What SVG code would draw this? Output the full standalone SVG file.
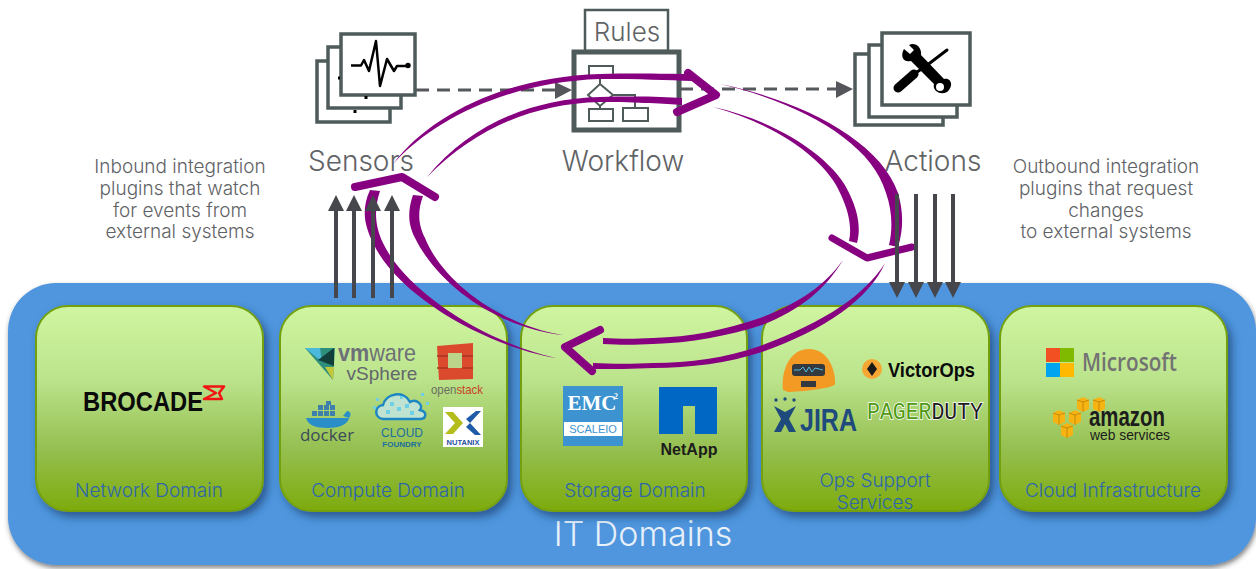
<svg xmlns="http://www.w3.org/2000/svg" width="1256" height="569" viewBox="0 0 1256 569">
<style>
.t{font-family:"Inter","Noto Sans",sans-serif;font-weight:300;fill:#5f6366;text-anchor:middle}
.d{font-family:"Inter","Noto Sans",sans-serif;font-weight:300;font-size:19px;fill:#2d66ad;text-anchor:middle}
.b{font-family:"Liberation Sans",sans-serif;font-weight:700}
.s{fill:#fff;stroke:#4f5b5b;stroke-width:3.5}
.g{fill:#fff;stroke:#4f5b5b;stroke-width:2}
.dom{fill:url(#gr);stroke:#74a010;stroke-width:2;filter:url(#sh)}
.pu{fill:#86007f}
.ch{fill:none;stroke:#86007f;stroke-linejoin:round;stroke-linecap:round;stroke-width:8}
.ar{stroke:#45474c;stroke-width:4;fill:none}
.dash{stroke:#55585c;stroke-width:3;stroke-dasharray:13 8;fill:none}
.head{fill:#55565c}
.ah{fill:#45474c}
</style>
<defs>
<linearGradient id="gr" x1="0" y1="0" x2="0" y2="1"><stop offset="0" stop-color="#d0f5a0"/><stop offset=".35" stop-color="#bce48d"/><stop offset=".7" stop-color="#95bf50"/><stop offset="1" stop-color="#7dab0c"/></linearGradient>
<filter id="sh" x="-10%" y="-10%" width="125%" height="125%"><feDropShadow dx="4" dy="5" stdDeviation="4" flood-color="#1c3f70" flood-opacity=".7"/></filter>
<filter id="shb" x="-5%" y="-5%" width="110%" height="110%"><feDropShadow dx="1" dy="3" stdDeviation="2.5" flood-color="#333" flood-opacity=".6"/></filter>
<g id="cube"><path d="M0,3 L6,0 L12,3 L12,12 L6,15 L0,12Z" fill="#f7b312"/><path d="M6,5 V15 M0,3 L6,5 L12,3" stroke="#b5820c" stroke-width=".8" fill="none"/></g>
</defs>

<g id="it-domains">
<rect x="8" y="283" width="1248" height="282" rx="48" fill="#5096de" filter="url(#shb)"/>
<text x="643" y="546" font-size="34" font-family="Inter,'Noto Sans',sans-serif" font-weight="300" fill="#e8f0fa" text-anchor="middle">IT Domains</text>
</g>

<g id="network-domain">
<rect class="dom" x="36" y="306" width="227" height="205" rx="32"/>
<text class="b" x="83" y="411" font-size="27" textLength="120" lengthAdjust="spacingAndGlyphs" fill="#0a0a0a">BROCADE</text>
<path d="M204,386.500 H224 L219,393 L222,399 H204 L216,393Z" fill="none" stroke="#f01414" stroke-width="2.500" stroke-linejoin="round"/>
<text class="d" x="149" y="497">Network Domain</text>
</g>

<g id="compute-domain">
<rect class="dom" x="280" y="306" width="227" height="205" rx="32"/>
<path d="M305,348 L335,348 L333,380Z" fill="#2e8f7c"/><path d="M305,348 L320,348 L322,362Z" fill="#4bb9dc"/><path d="M318,360 L334,348 L334,366Z" fill="#123f3a"/><path d="M325,367 L334,367 L333,380Z" fill="#c2c83a"/>
<text x="338" y="361" font-size="24" font-family="'Liberation Sans',sans-serif" textLength="78" lengthAdjust="spacingAndGlyphs" fill="#6d7078"><tspan font-weight="700">vm</tspan>ware</text>
<text x="382" y="380" font-size="19" font-family="'Liberation Sans',sans-serif" fill="#63666c" text-anchor="middle">vSphere</text>
<path d="M437,346 L473,343 L473,379 L439,380Z" fill="#dc4a2d"/><rect x="448" y="353" width="14" height="15" fill="#bcd48a"/><path d="M437,356 H448 M437,368 H448 M462,356 H473 M462,368 H473" stroke="#a93420" stroke-width="1.500"/>
<text x="431" y="394" font-size="13" font-family="'Liberation Sans',sans-serif" textLength="52" lengthAdjust="spacingAndGlyphs" fill="#6b6b60">open<tspan fill="#c8432a">stack</tspan></text>
<path d="M306,418 H349 C348,424 340,428 328,428 C315,428 308,425 306,418Z" fill="#2a8fc9"/><path d="M349,418 C352,414 350,411 347,411 L343,416Z" fill="#2a8fc9"/>
<g fill="#3f7fab"><rect x="312" y="411" width="5" height="5"/><rect x="318" y="411" width="5" height="5"/><rect x="324" y="411" width="5" height="5"/><rect x="330" y="411" width="5" height="5"/><rect x="318" y="405" width="5" height="5"/><rect x="324" y="405" width="5" height="5"/><rect x="330" y="405" width="5" height="5"/><rect x="326" y="401" width="5" height="4"/></g>
<text x="327" y="441" font-size="17" font-family="'Open Sans','Liberation Sans',sans-serif" fill="#3b4a58" text-anchor="middle">docker</text>
<path d="M383,419 C374,418 374,406 383,405 C386,393 404,390 410,402 C416,398 424,405 420,410 C428,412 426,419 420,419 Z" fill="#bfe3d0" stroke="#1d87c3" stroke-width="2.500"/>
<g fill="#6fd0e8"><rect x="390" y="402" width="4" height="4"/><rect x="397" y="407" width="4" height="4"/><rect x="405" y="404" width="4" height="4"/><rect x="386" y="410" width="4" height="4"/><rect x="410" y="411" width="4" height="4"/><rect x="400" y="396" width="3" height="3"/><rect x="376" y="398" width="3" height="3"/><rect x="373" y="406" width="3" height="3"/><rect x="421" y="393" width="3" height="3"/><rect x="426" y="402" width="3" height="3"/></g>
<text x="402" y="437" font-size="12" font-family="'Liberation Sans',sans-serif" fill="#1d6f9e" text-anchor="middle">CLOUD</text>
<text class="b" x="402" y="447" font-size="8" fill="#1d6f9e" text-anchor="middle">FOUNDRY</text>
<rect x="443" y="407" width="40" height="40" fill="#fff"/>
<path d="M445,412 H453 L463,423 L453,434 H445 L455,423Z" fill="#b5bd1c"/><path d="M466,419 L476,411 H481 L470,423Z M466,427 L470,423 L481,435 H475Z" fill="#1f5ba8"/>
<text class="b" x="463" y="445" font-size="7.500" fill="#1f4fa0" text-anchor="middle">NUTANIX</text>
<text class="d" x="388" y="497">Compute Domain</text>
</g>

<g id="storage-domain">
<rect class="dom" x="521" y="306" width="226" height="205" rx="32"/>
<rect x="563" y="386" width="60" height="60" fill="#3d93cf"/>
<text x="592" y="410" font-size="21" font-family="'Liberation Serif',serif" font-weight="700" fill="#fff" text-anchor="middle">EMC</text><text x="614" y="399" font-size="8" font-family="'Liberation Serif',serif" fill="#fff" font-weight="700">2</text>
<rect x="564" y="422" width="58" height="14" fill="#fff"/>
<text x="593" y="433" font-size="11" font-family="'Liberation Sans',sans-serif" fill="#3d93cf" text-anchor="middle">SCALEIO</text>
<path d="M659,387 H717 V434 H695 V406 H683 V434 H659Z" fill="#0067c5"/>
<text class="b" x="689" y="455" font-size="16" fill="#1c1c1c" text-anchor="middle">NetApp</text>
<text class="d" x="635" y="497">Storage Domain</text>
</g>

<g id="ops-support">
<rect class="dom" x="762" y="306" width="227" height="205" rx="32"/>
<path d="M783,390 C781,370 790,349 809,349 C828,349 836,370 835,384 C835,388 800,392 788,392 Z" fill="#f39a24"/>
<rect x="792" y="364" width="33" height="12" rx="3" fill="#33393f"/><path d="M794,370 L800,370 L803,367 L806,372 L809,367 L812,372 L815,368 L823,370" stroke="#50c0e8" fill="none"/><rect x="801" y="381" width="15" height="6" fill="#33393f"/>
<circle cx="872" cy="369" r="10" fill="#f6a733"/><path d="M872,362 L877,369 L872,376 L867,369Z" fill="#1a1a1a"/>
<text class="b" x="888" y="377" font-size="21" textLength="87" lengthAdjust="spacingAndGlyphs" fill="#0a0a0a">VictorOps</text>
<g fill="#1f4a7c"><circle cx="776" cy="400" r="1.700"/><circle cx="785" cy="399" r="1.700"/><circle cx="794" cy="400" r="1.700"/><path d="M774,406 L785,412 L796,406 L789,419 L796,432 L789,432 L785,424 L781,432 L774,432 L781,419Z"/></g>
<text class="b" x="800" y="431" font-size="31" textLength="57" lengthAdjust="spacingAndGlyphs" fill="#1f4a7c">JIRA</text>
<text x="867" y="419" font-size="23" font-family="'Liberation Mono',monospace" textLength="116" lengthAdjust="spacingAndGlyphs" fill="#4f9a14" stroke="#fff" stroke-width="1.500" style="paint-order:stroke">PAGER<tspan fill="#1a1a1a">DUTY</tspan></text>
<text class="d" x="875" y="487">Ops Support</text>
<text class="d" x="875" y="509">Services</text>
</g>

<g id="cloud-infrastructure">
<rect class="dom" x="1000" y="306" width="227" height="205" rx="32"/>
<rect x="1046" y="348" width="14" height="14" fill="#f25022"/><rect x="1060" y="348" width="14" height="14" fill="#7fba00"/><rect x="1046" y="363" width="14" height="14" fill="#00a4ef"/><rect x="1060" y="363" width="14" height="14" fill="#ffb900"/>
<text x="1082" y="371" font-size="26" font-family="'Open Sans','Liberation Sans',sans-serif" font-weight="600" textLength="95" lengthAdjust="spacingAndGlyphs" fill="#737373">Microsoft</text>
<use href="#cube" x="1077" y="397"/><use href="#cube" x="1093" y="397"/><use href="#cube" x="1053" y="410"/><use href="#cube" x="1069" y="410"/><use href="#cube" x="1061" y="423"/>
<text class="b" x="1089" y="426" font-size="27" textLength="76" lengthAdjust="spacingAndGlyphs" fill="#1c1c1c">amazon</text>
<text x="1090" y="440" font-size="14" font-family="'Liberation Sans',sans-serif" textLength="80" lengthAdjust="spacingAndGlyphs" fill="#1c1c1c">web services</text>
<text class="d" x="1113" y="497">Cloud Infrastructure</text>
</g>

<g id="sensors">
<rect class="s" x="317" y="61" width="73" height="61"/>
<rect class="s" x="328" y="47" width="73" height="61"/>
<rect class="s" x="341" y="34" width="74" height="61"/>
<path d="M338,78 h2 M366,96 v3 M355,110 v3" stroke="#000" stroke-width="3"/>
<path d="M351,65.500 H361 L364,60 L369,71 L376,41 L380,86 L387,59 L394,71 L397,66 H408" fill="none" stroke="#000" stroke-width="2.500" stroke-linejoin="round"/><circle cx="408" cy="65.500" r="2.700"/>
<text class="t" x="361" y="171" font-size="28">Sensors</text>
</g>

<g id="workflow">
<rect class="s" x="585" y="10" width="83" height="41" style="stroke-width:2.500"/>
<text class="t" x="627" y="41" font-size="26">Rules</text>
<rect class="s" x="574" y="52" width="105" height="78" style="stroke-width:5"/>
<rect class="g" x="589" y="66" width="24" height="12"/><rect class="g" x="589" y="109" width="24" height="12"/><rect class="g" x="623" y="108" width="25" height="13"/>
<path class="g" d="M600,84 L613,95 L600,106 L588,95Z"/>
<path d="M600,78 V84 M600,106 V109 M613,95 H635 V108" stroke="#4f5b5b" stroke-width="2" fill="none"/>
<text class="t" x="623" y="171" font-size="28">Workflow</text>
</g>

<g id="actions">
<rect class="s" x="855" y="54" width="88" height="71"/>
<rect class="s" x="869" y="45" width="88" height="72"/>
<rect class="s" x="882" y="33" width="88" height="72"/>
<path d="M904,49 L910,54 L914,50 L909,45 C915,42 922,47 921,55 L944,79 C950,77 955,85 947,92 C940,96 932,90 934,84 L911,61 C903,63 900,56 904,49Z" fill="#000"/><circle cx="940" cy="87" r="4" fill="#fff"/>
<path d="M898,88 L914,74" stroke="#000" stroke-width="9" stroke-linecap="round"/><path d="M914,74 L920,70 M926,66 L947,50" stroke="#000" stroke-width="3" stroke-linecap="round"/>
<text class="t" x="933" y="171" font-size="28">Actions</text>
</g>

<g id="notes">
<text class="t" font-size="19" x="180" y="173">Inbound integration</text>
<text class="t" font-size="19" x="180" y="195">plugins that watch</text>
<text class="t" font-size="19" x="180" y="217">for events from</text>
<text class="t" font-size="19" x="180" y="238">external systems</text>
<text class="t" font-size="19" x="1106" y="173">Outbound integration</text>
<text class="t" font-size="19" x="1106" y="195">plugins that request</text>
<text class="t" font-size="19" x="1106" y="217">changes</text>
<text class="t" font-size="19" x="1106" y="238">to external systems</text>
</g>

<g id="connectors">
<path class="dash" d="M416,90 H556"/><path class="head" d="M555,82 L572,90 L555,99Z"/>
<path class="dash" d="M680,89 H837"/><path class="head" d="M836,81 L853,89 L836,98Z"/>

<path class="pu" d="M393,164 C430,115 505,77 600,74 C640,73 668,74 692,74 L692,81 C668,80 640,79 600,79 C510,82 435,118 393,164Z"/>
<path class="pu" d="M427,177 C470,125 530,99 600,97 C640,96 665,97 682,98 L682,105 C665,104 640,102 600,102 C532,104 476,128 427,177Z"/>
<polyline class="ch" points="688,73 716,95 677,112"/>

<path class="pu" d="M720,84 C800,100 880,140 898,193 C903,210 904,228 898,247 L889,245 C893,228 892,210 886,193 C872,143 802,103 720,84Z"/>
<path class="pu" d="M713,107 C775,120 835,158 850,195 C858,212 861,228 857,243 L849,241 C852,228 849,212 841,195 C828,161 777,124 713,107Z"/>
<polyline class="ch" points="832,238 867,258 912,247" style="stroke-width:7"/>

<path class="pu" d="M843,260 C825,285 800,303 760,318 C725,330 690,337 653,338 C635,339 620,339 603,338 L603,344 C620,345 635,345 653,344 C690,343 728,336 762,325 C800,310 825,290 843,260Z"/>
<path class="pu" d="M885,263 C865,295 825,322 760,346 C725,358 690,363 653,363 C635,364 610,364 593,363 L593,369 C610,369 635,369 653,368 C690,368 728,363 762,352 C825,330 870,298 885,263Z"/>
<polyline class="ch" points="600,330 565,347 592,371"/>

<path class="pu" d="M563,335 C500,328 440,288 415,238 C410,228 406,215 413,195 L423,196 C416,215 420,228 425,238 C443,283 503,326 563,335Z"/>
<path class="pu" d="M563,359 C495,350 400,300 373,243 C366,228 360,212 370,190 L380,191 C373,212 376,228 383,243 C408,296 497,348 563,359Z"/>
<polyline class="ch" points="355,187 402,177 435,197"/>

<g id="in-arrows">
<path class="ar" d="M336,298 V209 M354,298 V209 M373,298 V209 M392,298 V209"/>
<path class="ah" d="M336,195 L344,211 H328Z M354,195 L362,211 H346Z M373,195 L381,211 H365Z M392,195 L400,211 H384Z"/>
</g>
<g id="out-arrows">
<path class="ar" d="M897,194 V284 M916,194 V284 M935,194 V284 M953,194 V284"/>
<path class="ah" d="M889,282 H905 L897,298Z M908,282 H924 L916,298Z M927,282 H943 L935,298Z M945,282 H961 L953,298Z"/>
</g>
</g>
</svg>
